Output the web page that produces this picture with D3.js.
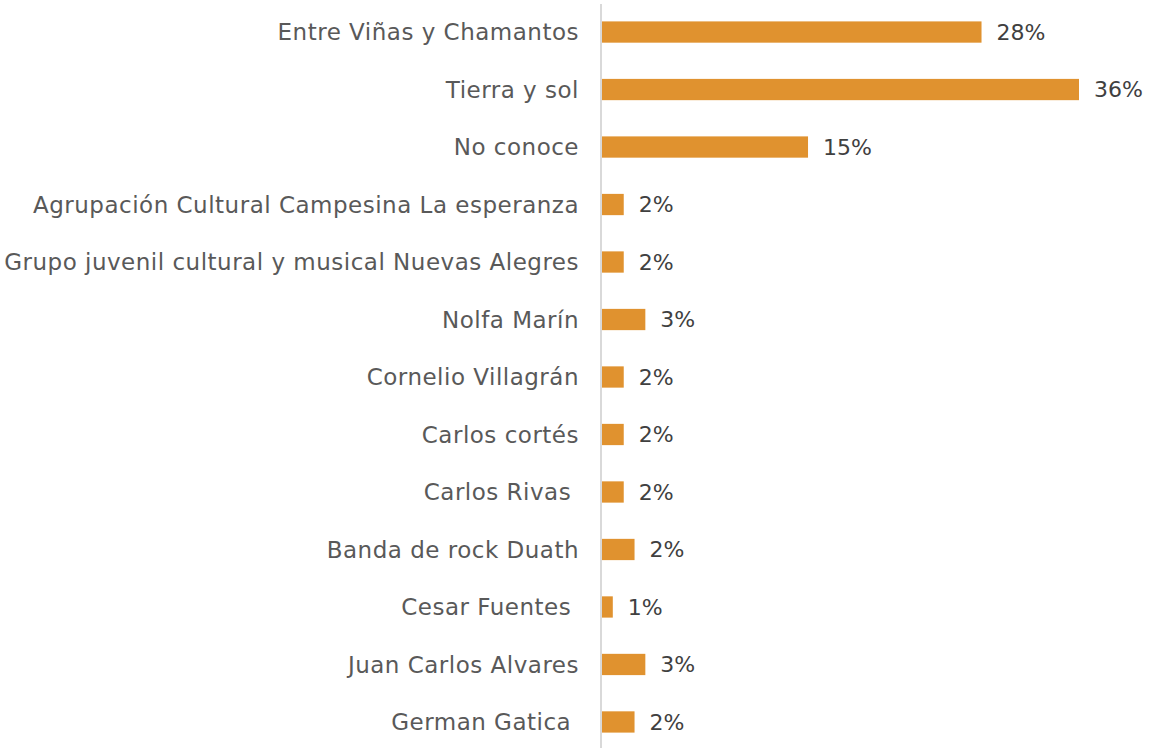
<!DOCTYPE html>
<html><head><meta charset="utf-8">
<script src="https://cdn.jsdelivr.net/npm/d3@7/dist/d3.min.js"></script>
<style>body{margin:0;background:#fff}svg{display:block}</style>
</head><body><svg id="c" width="1151" height="748"></svg>
<script>
const categories = ["Entre Viñas y Chamantos","Tierra y sol","No conoce","Agrupación Cultural Campesina La esperanza","Grupo juvenil cultural y musical Nuevas Alegres","Nolfa Marín","Cornelio Villagrán","Carlos cortés","Carlos Rivas ","Banda de rock Duath","Cesar Fuentes ","Juan Carlos Alvares","German Gatica "];
const values = [28.46,35.77,15.45,1.63,1.63,3.25,1.63,1.63,1.63,2.44,0.81,3.25,2.44];
const valueLabels = ["28%","36%","15%","2%","2%","3%","2%","2%","2%","2%","1%","3%","2%"];

const svg = d3.select("#c");
const x0 = 602;
const x = d3.scaleLinear().domain([0,35.77]).range([x0,1079]);
const y = d3.scaleBand().domain(categories).range([3,751]).paddingInner(0.63).paddingOuter(0.32);

svg.selectAll("rect.bar").data(categories).join("rect")
  .attr("x", x(0)).attr("y", d=>y(d)).attr("height", y.bandwidth())
  .attr("width", (d,i)=>x(values[i])-x(0)).attr("fill","#E0922F");

svg.append("line").attr("x1",601).attr("x2",601).attr("y1",4).attr("y2",748)
  .attr("stroke","#d9d9d9").attr("stroke-width",2);

svg.selectAll("text.cat").data(categories).join("text")
  .attr("x",579).attr("y",d=>y(d)+y.bandwidth()/2).attr("dy","0.36em")
  .attr("text-anchor","end").attr("xml:space","preserve").style("white-space","pre")
  .attr("font-family","DejaVu Sans").attr("font-size",23).attr("letter-spacing","0.5px").attr("fill","#595959")
  .text(d=>d);

svg.selectAll("text.val").data(categories).join("text")
  .attr("x",(d,i)=>x(values[i])+15).attr("y",d=>y(d)+y.bandwidth()/2).attr("dy","0.36em")
  .attr("font-family","DejaVu Sans").attr("font-size",22).attr("fill","#404040")
  .text((d,i)=>valueLabels[i]);
</script></body></html>
